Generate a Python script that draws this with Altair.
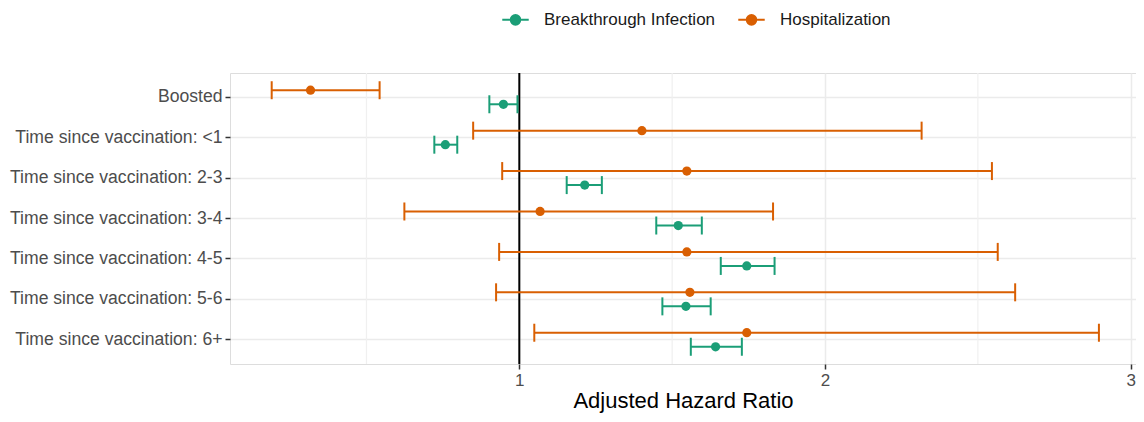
import altair as alt
import pandas as pd

categories = [
    "Boosted",
    "Time since vaccination: <1",
    "Time since vaccination: 2-3",
    "Time since vaccination: 3-4",
    "Time since vaccination: 4-5",
    "Time since vaccination: 5-6",
    "Time since vaccination: 6+",
]
series = ["Breakthrough Infection", "Hospitalization"]
colors = ["#1b9e77", "#d95f02"]

hosp_est = [0.317, 1.401, 1.548, 1.068, 1.548, 1.558, 1.744]
hosp_low = [0.190, 0.849, 0.944, 0.624, 0.934, 0.924, 1.049]
hosp_high = [0.543, 2.316, 2.546, 1.830, 2.565, 2.622, 2.896]

bt_est = [0.948, 0.758, 1.214, 1.520, 1.744, 1.545, 1.642]
bt_low = [0.902, 0.722, 1.155, 1.448, 1.659, 1.468, 1.561]
bt_high = [0.994, 0.797, 1.270, 1.597, 1.835, 1.626, 1.728]

x_ticks = [1, 2, 3]
minor_breaks = [0.5, 1.5, 2.5]
reference = [1]

rows = []
for i, c in enumerate(categories):
    rows.append(dict(cat=c, series="Hospitalization", est=hosp_est[i], low=hosp_low[i], high=hosp_high[i]))
    rows.append(dict(cat=c, series="Breakthrough Infection", est=bt_est[i], low=bt_low[i], high=bt_high[i]))
df = pd.DataFrame(rows)

FONT = "Liberation Sans"
xscale = alt.Scale(domain=[0.0536, 3.0173], nice=False, zero=False)
yscale = alt.Scale(type="band", domain=categories, paddingInner=0, paddingOuter=0.1)
yoff = alt.YOffset(
    "series:N",
    scale=alt.Scale(domain=["Hospitalization", "Breakthrough Infection"], paddingInner=0, paddingOuter=0.44),
)

sym_path = "M-1,0H1M0.36,0A0.36,0.36,0,1,1,-0.36,0A0.36,0.36,0,1,1,0.36,0Z"
legend = alt.Legend(
    title=None, orient="none", legendX=271, legendY=-68, direction="horizontal",
    symbolType=sym_path, symbolSize=700, symbolStrokeWidth=2, symbolOpacity=1,
    labelFontSize=17, labelColor="#1a1a1a", labelOffset=14, columnPadding=18, padding=0,
    labelFont=FONT, labelLimit=0,
)
cscale = alt.Scale(domain=series, range=colors)
fill_enc = alt.Fill("series:N", scale=cscale, legend=legend)
stroke_enc = alt.Stroke("series:N", scale=cscale, legend=legend)

y_enc = alt.Y(
    "cat:N", scale=yscale,
    axis=alt.Axis(title=None, labelFontSize=17.6, labelColor="#4d4d4d", labelFont=FONT, labelLimit=0,
                  tickColor="#333333", tickSize=5, tickWidth=1.5, domain=False, grid=True,
                  gridColor="#ebebeb", gridWidth=1.5, labelPadding=3),
)
x_axis = alt.Axis(values=x_ticks, format="d", title="Adjusted Hazard Ratio", labelFontSize=17,
                  labelColor="#4d4d4d", labelFont=FONT, tickColor="#333333", tickSize=5,
                  tickWidth=1.5, domain=False, grid=True, gridColor="#ebebeb", gridWidth=1.5,
                  titleFontSize=22, titleColor="#000000", titleFontWeight="normal",
                  titleFont=FONT, titlePadding=2, labelPadding=3)

minor = alt.Chart(pd.DataFrame({"v": minor_breaks})).mark_rule(color="#f0f0f0", strokeWidth=1.2).encode(
    x=alt.X("v:Q", scale=xscale, axis=x_axis)
)
vline = alt.Chart(pd.DataFrame({"v": reference})).mark_rule(color="#000000", strokeWidth=2).encode(
    x=alt.X("v:Q", scale=xscale)
)

base = alt.Chart(df)
bars = base.mark_rule(strokeWidth=2).encode(
    x=alt.X("low:Q", scale=xscale), x2="high:Q", y=y_enc, yOffset=yoff, stroke=stroke_enc
)
cap_lo = base.mark_tick(thickness=2, size=18, opacity=1).encode(
    x=alt.X("low:Q", scale=xscale), y=y_enc, yOffset=yoff, fill=fill_enc
)
cap_hi = base.mark_tick(thickness=2, size=18, opacity=1).encode(
    x=alt.X("high:Q", scale=xscale), y=y_enc, yOffset=yoff, fill=fill_enc
)
pts = base.mark_point(filled=True, size=85, opacity=1, strokeWidth=0).encode(
    x=alt.X("est:Q", scale=xscale), y=y_enc, yOffset=yoff, fill=fill_enc
)

chart = alt.layer(minor, vline, bars, cap_lo, cap_hi, pts).properties(
    width=906, height=291,
    padding={"left": 222, "top": 65, "right": 0, "bottom": 50},
    autosize=alt.AutoSizeParams(type="none"),
).configure_view(stroke="#595959", strokeWidth=1.3).configure(font=FONT)

chart.save("out.html", embed_options={"renderer": "svg", "actions": False})
